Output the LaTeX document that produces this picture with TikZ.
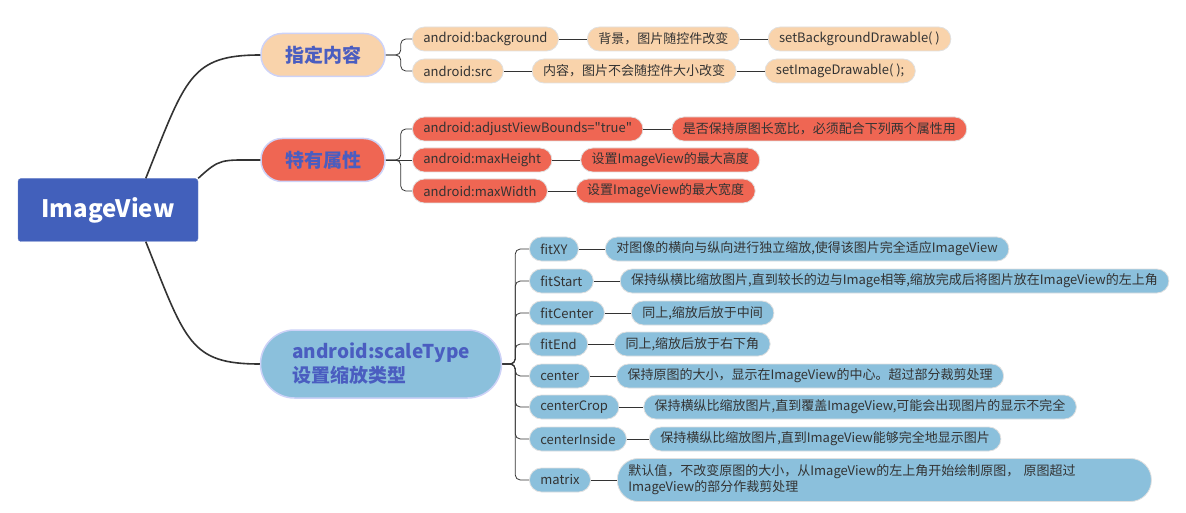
\documentclass[tikz,border=0pt]{standalone}
\usepackage{fontspec}
\setmainfont{Noto Sans CJK SC}[Ligatures=TeXOff]
\usetikzlibrary{positioning}
\definecolor{rootblue}{HTML}{4260BB}
\definecolor{peach}{HTML}{F9D3AB}
\definecolor{tomato}{HTML}{EF6653}
\definecolor{skyblue}{HTML}{8BC0DC}
\definecolor{titleblue}{HTML}{4A5DC0}
\definecolor{rimblue}{HTML}{CDD2F7}
\definecolor{linegray}{HTML}{333333}
\tikzset{
  rootbox/.style={fill=rootblue, draw=rootblue!80, rounded corners=3pt, minimum width=180pt, minimum height=63pt, text=white, font=\fontsize{24}{28}\selectfont\bfseries},
  topic/.style={draw=rimblue, line width=1.5pt, rounded corners=21pt, minimum width=124pt, minimum height=43pt, text=titleblue, font=\fontsize{19}{24}\selectfont\bfseries},
  leaf/.style={draw=white!88!black, line width=0.8pt, rounded corners=12pt, minimum height=24pt, inner xsep=11pt, inner ysep=0pt, text=black!80, font=\fontsize{13}{16}\selectfont},
  trunk/.style={draw=linegray, line width=1.6pt},
  twig/.style={draw=linegray, line width=0.8pt},
}
\begin{document}
\begin{tikzpicture}[x=1pt, y=-1pt]
\useasboundingbox (0,0) rectangle (1186,513);
% Draw root and topics
\node[rootbox] (root) at (108,210) {ImageView};
\node[topic, fill=peach] (zd) at (323,55) {指定内容};
\node[topic, fill=tomato] (ty) at (323,160) {特有属性};
\node[topic, fill=skyblue, align=left, minimum width=241pt, minimum height=68pt, rounded corners=34pt] (sc) at (381,364) {android:scaleType\\设置缩放类型};
\draw[trunk] (root.40) .. controls +(40,-100) and +(-70,0) .. (zd.west);
\draw[trunk] (root.north east) .. controls +(22,-20) and +(-40,0) .. (ty.west);
\draw[trunk] (root.-40) .. controls +(40,100) and +(-70,0) .. (sc.west);
% Draw leaves of 指定内容
\node[leaf, fill=peach, anchor=west] (bg) at (412,39) {android:background};
\node[leaf, fill=peach, right=28pt of bg] (bgnote) {背景，图片随控件改变};
\node[leaf, fill=peach, right=28pt of bgnote] (bgset) {setBackgroundDrawable( )};
\node[leaf, fill=peach, anchor=west] (src) at (412,71) {android:src};
\node[leaf, fill=peach, right=28pt of src] (srcnote) {内容，图片不会随控件大小改变};
\node[leaf, fill=peach, right=28pt of srcnote] (srcset) {setImageDrawable( );};
\draw[twig, rounded corners=5pt] (zd.east) -- ++(15,0) |- (bg.west);
\draw[twig, rounded corners=5pt] (zd.east) -- ++(15,0) |- (src.west);
\draw[twig] (bg.east) -- (bgnote.west);
\draw[twig] (bgnote.east) -- (bgset.west);
\draw[twig] (src.east) -- (srcnote.west);
\draw[twig] (srcnote.east) -- (srcset.west);
% Draw leaves of 特有属性
\node[leaf, fill=tomato, anchor=west] (adj) at (412,129) {android:adjustViewBounds="true"};
\node[leaf, fill=tomato, right=28pt of adj] (adjnote) {是否保持原图长宽比，必须配合下列两个属性用};
\node[leaf, fill=tomato, anchor=west] (mh) at (412,160) {android:maxHeight};
\node[leaf, fill=tomato, right=28pt of mh] (mhnote) {设置ImageView的最大高度};
\node[leaf, fill=tomato, anchor=west] (mw) at (412,191) {android:maxWidth};
\node[leaf, fill=tomato, right=28pt of mw] (mwnote) {设置ImageView的最大宽度};
\draw[twig, rounded corners=5pt] (ty.east) -- ++(15,0) |- (adj.west);
\draw[twig] (ty.east) -- (mh.west);
\draw[twig, rounded corners=5pt] (ty.east) -- ++(15,0) |- (mw.west);
\draw[twig] (adj.east) -- (adjnote.west);
\draw[twig] (mh.east) -- (mhnote.west);
\draw[twig] (mw.east) -- (mwnote.west);
% Draw leaves of android:scaleType
\node[leaf, fill=skyblue, anchor=west] (fxy) at (529,249) {fitXY};
\node[leaf, fill=skyblue, right=26pt of fxy] (fxynote) {对图像的横向与纵向进行独立缩放,使得该图片完全适应ImageView};
\node[leaf, fill=skyblue, anchor=west] (fst) at (529,281) {fitStart};
\node[leaf, fill=skyblue, right=26pt of fst] (fstnote) {保持纵横比缩放图片,直到较长的边与Image相等,缩放完成后将图片放在ImageView的左上角};
\node[leaf, fill=skyblue, anchor=west] (fce) at (529,313) {fitCenter};
\node[leaf, fill=skyblue, right=26pt of fce] (fcenote) {同上,缩放后放于中间};
\node[leaf, fill=skyblue, anchor=west] (fen) at (529,344) {fitEnd};
\node[leaf, fill=skyblue, right=26pt of fen] (fennote) {同上,缩放后放于右下角};
\node[leaf, fill=skyblue, anchor=west] (cen) at (529,376) {center};
\node[leaf, fill=skyblue, right=26pt of cen] (cennote) {保持原图的大小，显示在ImageView的中心。超过部分裁剪处理};
\node[leaf, fill=skyblue, anchor=west] (ccr) at (529,407) {centerCrop};
\node[leaf, fill=skyblue, right=24pt of ccr] (ccrnote) {保持横纵比缩放图片,直到覆盖ImageView,可能会出现图片的显示不完全};
\node[leaf, fill=skyblue, anchor=west] (cin) at (529,439) {centerInside};
\node[leaf, fill=skyblue, right=22pt of cin] (cinnote) {保持横纵比缩放图片,直到ImageView能够完全地显示图片};
\node[leaf, fill=skyblue, anchor=west] (mat) at (529,480) {matrix};
\node[leaf, fill=skyblue, right=26pt of mat, text width=512pt, align=left, minimum height=43pt, rounded corners=21pt] (matnote) {默认值，不改变原图的大小，从ImageView的左上角开始绘制原图， 原图超过\\ImageView的部分作裁剪处理};
\draw[twig, rounded corners=5pt] (sc.east) -- ++(13,0) |- (fxy.west);
\draw[twig, rounded corners=5pt] (sc.east) -- ++(13,0) |- (fst.west);
\draw[twig, rounded corners=5pt] (sc.east) -- ++(13,0) |- (fce.west);
\draw[twig, rounded corners=5pt] (sc.east) -- ++(13,0) |- (fen.west);
\draw[twig, rounded corners=5pt] (sc.east) -- ++(13,0) |- (cen.west);
\draw[twig, rounded corners=5pt] (sc.east) -- ++(13,0) |- (ccr.west);
\draw[twig, rounded corners=5pt] (sc.east) -- ++(13,0) |- (cin.west);
\draw[twig, rounded corners=5pt] (sc.east) -- ++(13,0) |- (mat.west);
\draw[twig] (fxy.east) -- (fxynote.west);
\draw[twig] (fst.east) -- (fstnote.west);
\draw[twig] (fce.east) -- (fcenote.west);
\draw[twig] (fen.east) -- (fennote.west);
\draw[twig] (cen.east) -- (cennote.west);
\draw[twig] (ccr.east) -- (ccrnote.west);
\draw[twig] (cin.east) -- (cinnote.west);
\draw[twig] (mat.east) -- (matnote.west);
\end{tikzpicture}
\end{document}
